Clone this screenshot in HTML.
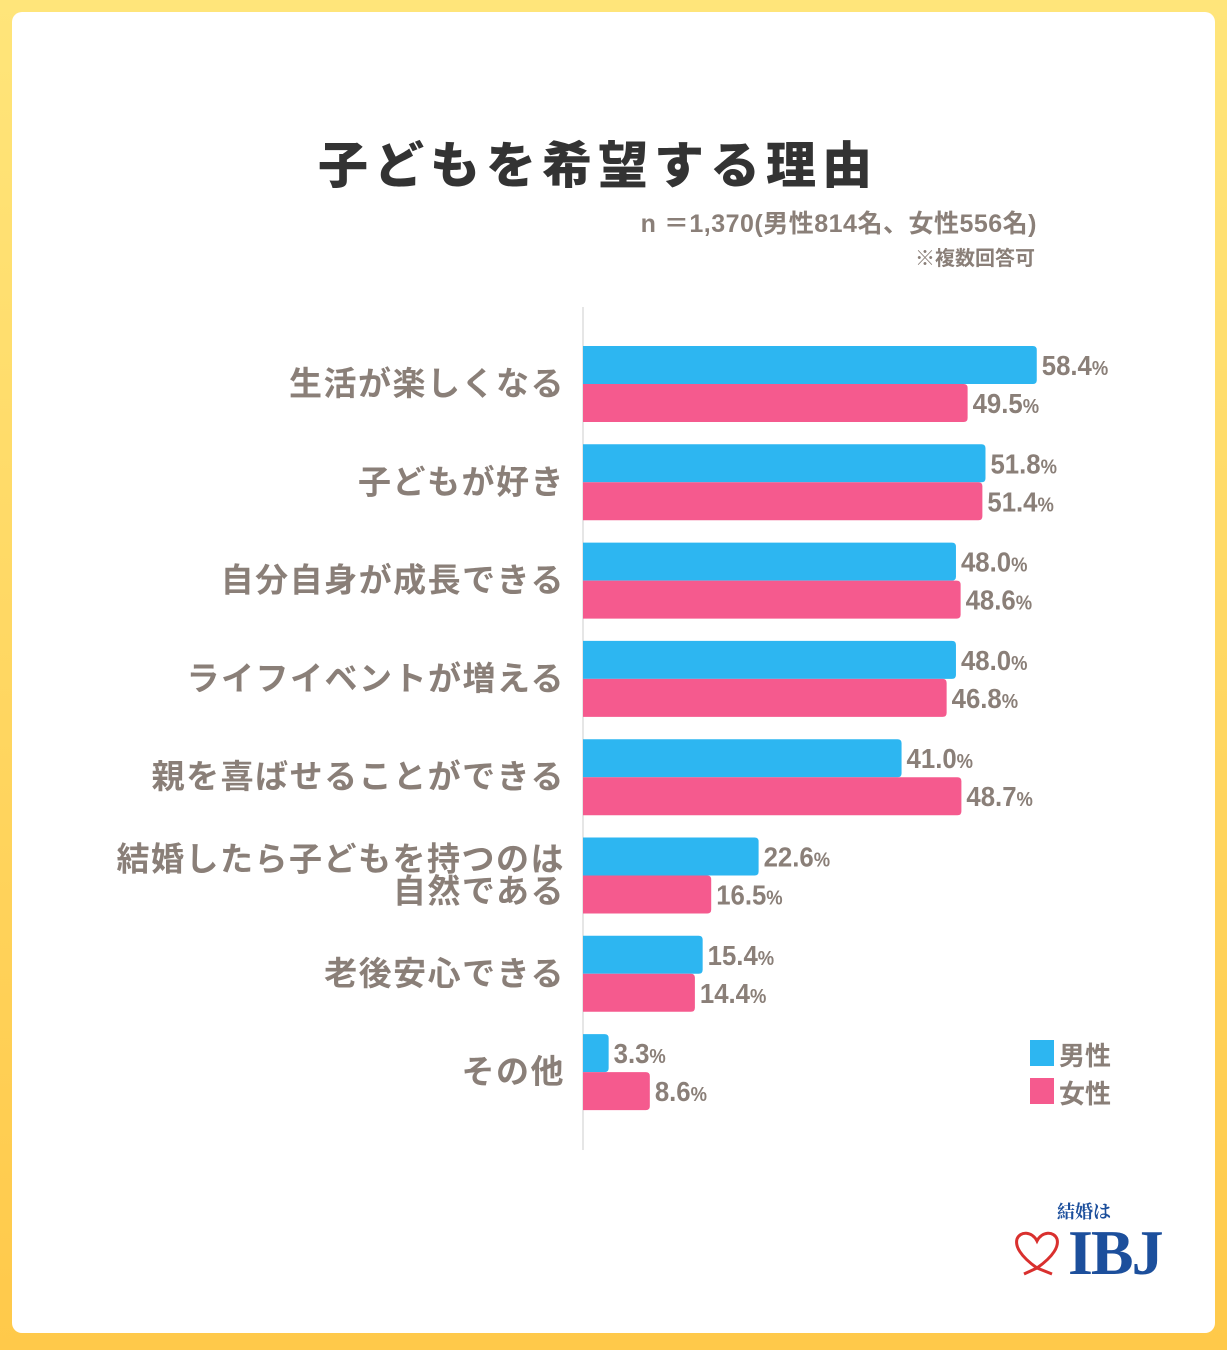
<!DOCTYPE html>
<html><head><meta charset="utf-8"><style>
html,body{margin:0;padding:0}
body{width:1227px;height:1350px;background:linear-gradient(180deg,#ffe57a,#ffc94a);position:relative;overflow:hidden;font-family:"Liberation Sans","Noto Sans CJK JP",sans-serif}
.card{position:absolute;left:12px;top:12px;width:1203px;height:1321px;background:#fff;border-radius:10px}
.t{position:absolute;white-space:nowrap}
</style></head><body>
<div class="card"></div>
<div class="t" style="left:318px;top:126px;font-size:50px;font-weight:900;color:#333;letter-spacing:6px">子どもを希望する理由</div>
<div class="t" style="right:190px;top:204px;font-size:25px;font-weight:700;color:#8a7f78;letter-spacing:0.5px">n ＝1,370(男性814名、女性556名)</div>
<div class="t" style="right:192px;top:242px;font-size:20px;font-weight:700;color:#8a7f78">※複数回答可</div>
<svg id="chart" width="1227" height="1350" style="position:absolute;left:0;top:0">
<line x1="583" y1="307" x2="583" y2="1150" stroke="#ddd" stroke-width="1.5"/>
</svg>
<div>
<div class="t" style="left:1030px;top:1040px;width:24px;height:26px;background:#2db6f1"></div>
<div class="t" style="left:1059px;top:1036px;font-size:26px;font-weight:700;color:#8a7f78">男性</div>
<div class="t" style="left:1030px;top:1078px;width:24px;height:26px;background:#f55a8e"></div>
<div class="t" style="left:1059px;top:1074px;font-size:26px;font-weight:700;color:#8a7f78">女性</div>
</div>
<div>
<div class="t" style="left:1057px;top:1198px;font-family:'Noto Serif CJK SC',serif;font-size:18px;font-weight:700;color:#1c4f9c">結婚は</div>
<svg class="t" style="left:1012px;top:1228px" width="50" height="48"><path d="M25 40 C8 28 3 18 5 11 C8 3 20 3 25 13 C30 3 42 3 45 11 C47 18 42 28 25 40 M25 40 L12 46 M25 40 L40 46" fill="none" stroke="#d9302e" stroke-width="3"/></svg>
<div class="t" style="left:1068px;top:1216px;font-family:'Liberation Serif',serif;font-size:64px;font-weight:700;color:#1c4f9c;letter-spacing:-2px">IBJ</div>
</div>
<script>
const categories=["生活が楽しくなる","子どもが好き","自分自身が成長できる","ライフイベントが増える","親を喜ばせることができる","結婚したら子どもを持つのは|自然である","老後安心できる","その他"];
const maleValues=[58.4,51.8,48.0,48.0,41.0,22.6,15.4,3.3];
const femaleValues=[49.5,51.4,48.6,46.8,48.7,16.5,14.4,8.6];
const svg=document.getElementById('chart');
const NS="http://www.w3.org/2000/svg";
const x0=583, pxPer=7.77, top0=346, step=98.3, bh=38;
const xScale=v=>x0+v*pxPer;
const yScale=i=>top0+i*step;
function mk(tag,attrs){const e=document.createElementNS(NS,tag);for(const k in attrs)e.setAttribute(k,attrs[k]);svg.appendChild(e);return e;}
function bar(v,y,color,name){
  const w=xScale(v)-x0;
  const r=mk('path',{d:`M${x0} ${y} H${x0+w-4} Q${x0+w} ${y} ${x0+w} ${y+4} V${y+bh-4} Q${x0+w} ${y+bh} ${x0+w-4} ${y+bh} H${x0} Z`,fill:color});
  
  
  const t=mk('text',{x:xScale(v)+5,y:y+bh/2+10,'font-size':28,'font-weight':700,fill:'#8a7f78',transform:`translate(${xScale(v)+5} 0) scale(0.92 1) translate(${-(xScale(v)+5)} 0)`});
  
  
  t.innerHTML=v.toFixed(1)+'<tspan font-size="20">%</tspan>';
}
categories.forEach((c,i)=>{
  const y=yScale(i);
  bar(maleValues[i],y,'#2db6f1','bar-male-'+i);
  bar(femaleValues[i],y+bh,'#f55a8e','bar-female-'+i);
  const lines=c.split('|');
  lines.forEach((ln,j)=>{
    const cy=y+bh+11-(lines.length-1)*16+j*32;
    const t=mk('text',{x:565,y:cy,'text-anchor':'end','font-size':33,'font-weight':700,fill:'#8a7f78','letter-spacing':1.5});
    
    
    t.textContent=ln;
  });
});
</script>
</body></html>
